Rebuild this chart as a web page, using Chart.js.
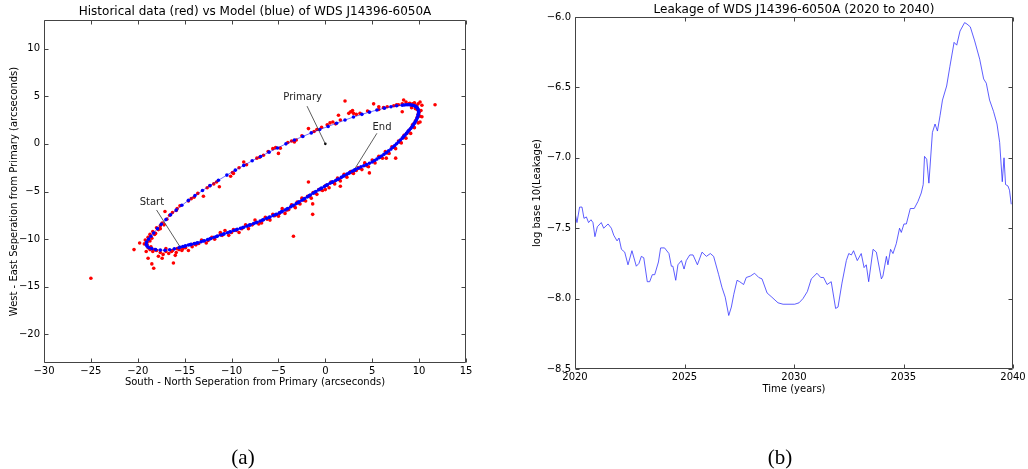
<!DOCTYPE html>
<html><head><meta charset="utf-8">
<script src="https://cdn.jsdelivr.net/npm/chart.js@4.4.1/dist/chart.umd.min.js"></script>
<style>
html,body{margin:0;padding:0;background:#fff;width:1028px;height:469px;overflow:hidden}
#c1{position:absolute;left:0;top:0}
#c2{position:absolute;left:514px;top:0}
</style></head><body>
<canvas id="c1" width="514" height="469"></canvas>
<canvas id="c2" width="514" height="469"></canvas>
<script>
// ---------- Orbit chart (a) ----------
const modelX = [-15.5,-15.2,-14.9,-14.6,-14.3,-13.95,-13.6,-13.25,-12.9,-12.55,-12.2,-11.85,-11.5,-11.15,-10.8,-10.45,-10.1,-9.75,-9.4,-9.05,-8.7,-8.35,-8.0,-7.65,-7.3,-6.95,-6.6,-6.25,-5.9,-5.55,-5.2,-4.9,-4.6,-4.3,-4.0,-3.7,-3.4,-3.1,-2.8,-2.5,-2.2,-1.9,-1.6,-1.3,-1.0,-0.7,-0.4,-0.1,0.2,0.5,0.8,1.1,1.4,1.7,2.0,2.3,2.6,2.9,3.2,3.5,3.8,4.1,4.4,4.7,5.0,5.25,5.5,5.75,6.0,6.25,6.5,6.75,7.0,7.2,7.4,7.6,7.8,8.0,8.2,8.35,8.5,8.65,8.8,8.95,9.1,9.25,9.35,9.45,9.55,9.65,9.75,9.82,9.88,9.92,9.95,9.93,9.9,9.83,9.75,9.65,9.55,9.42,9.3,9.15,9.0,8.8,8.6,8.4,8.2,
  7.6,7.0,6.3,5.5,4.7,3.9,3.0,2.1,1.2,0.3,-0.6,-1.5,-2.4,-3.3,-4.2,-5.1,-6.0,-6.9,-7.8,-8.7,-9.6,-10.5,-11.4,-12.3,-13.1,-13.9,-14.6,-15.3,-15.9,-16.5,-17.0,-17.5,-17.9,-18.3,-18.6,-18.85,-19.05,-19.1,-19.0,-18.8,-18.5,-18.1,-17.6,-17.1,-16.6,-16.1,-15.6,
  -15.0,-14.4,-13.7,-13.0,-12.3,-11.6,-10.9,-10.2,-9.5,-8.8,-8.1,-7.4,-6.7,-6.0,-5.3,-4.7,-4.1,-3.5,-2.9,-2.3,-1.7,-1.1,-0.5,0.1,0.7,1.3,1.9,2.5,3.1];
const modelY = [-10.85,-10.78,-10.7,-10.62,-10.55,-10.47,-10.38,-10.28,-10.17,-10.05,-9.93,-9.8,-9.68,-9.57,-9.45,-9.33,-9.22,-9.1,-8.98,-8.87,-8.75,-8.63,-8.5,-8.37,-8.24,-8.1,-7.96,-7.82,-7.67,-7.53,-7.38,-7.24,-7.1,-6.94,-6.78,-6.61,-6.44,-6.27,-6.09,-5.92,-5.74,-5.56,-5.37,-5.18,-5.0,-4.82,-4.65,-4.47,-4.3,-4.14,-3.99,-3.84,-3.69,-3.52,-3.35,-3.18,-3.02,-2.86,-2.7,-2.56,-2.42,-2.3,-2.18,-2.04,-1.9,-1.75,-1.6,-1.44,-1.28,-1.1,-0.92,-0.74,-0.55,-0.36,-0.18,0.01,0.2,0.4,0.6,0.76,0.92,1.1,1.28,1.45,1.62,1.79,1.95,2.1,2.25,2.42,2.6,2.77,2.95,3.12,3.3,3.45,3.6,3.73,3.85,3.92,3.98,4.02,4.06,4.08,4.1,4.1,4.1,4.08,4.06,
  4.0,3.9,3.75,3.55,3.33,3.1,2.82,2.5,2.17,1.83,1.5,1.15,0.78,0.4,0.0,-0.43,-0.87,-1.32,-1.78,-2.26,-2.76,-3.28,-3.82,-4.38,-4.9,-5.43,-5.93,-6.45,-6.95,-7.45,-7.95,-8.45,-8.9,-9.35,-9.7,-10.0,-10.3,-10.55,-10.75,-10.9,-11.0,-11.1,-11.15,-11.17,-11.12,-11.02,-10.9,
  -10.75,-10.58,-10.4,-10.2,-9.97,-9.72,-9.48,-9.25,-9.02,-8.78,-8.53,-8.28,-8.0,-7.72,-7.42,-7.14,-6.83,-6.5,-6.15,-5.8,-5.43,-5.06,-4.7,-4.35,-4.04,-3.74,-3.4,-3.08,-2.76];
const histX = [-19.2,-19.0,-18.9,-19.3,-18.7,-18.4,-18.0,-17.6,-17.3,-17.0,-16.7,-16.3,-15.9,-15.6,-15.2,-14.9,-14.6,-14.2,-18.9,-18.7,-18.4,-18.2,-18.0,-17.8,-17.6,-17.4,-17.2,-16.9,-20.4,-19.8,-18.9,-18.5,-18.3,-16.2,-17.1,-25.0,-17.8,-17.4,-19.1,-16.0,
  -13.8,-13.2,-12.7,-12.1,-11.8,-11.2,-10.3,-9.8,-9.2,-8.5,-8.2,-7.5,-7.1,-6.4,-5.9,-5.6,-5.0,-4.6,-4.3,-3.9,-3.6,-3.2,-3.0,-2.7,-2.5,-2.1,-1.9,-1.5,-1.3,-0.9,-0.7,-0.3,0.0,0.4,0.6,1.0,1.3,1.6,2.0,2.3,2.7,3.0,3.5,3.9,4.2,4.6,5.0,5.3,5.7,6.1,6.4,6.8,7.1,7.5,7.8,8.1,8.4,8.6,8.9,9.1,9.3,9.5,9.7,9.9,10.1,10.0,9.8,10.3,10.2,9.7,9.5,9.2,9.9,10.1,8.9,8.6,11.7,8.35,7.5,4.7,-1.8,-1.35,-1.35,-3.4,-6.8,-10.7,
  -16.6,-16.3,-15.8,-15.5,-14.6,-14.0,-13.6,-13.0,-12.3,-11.9,-11.6,-11.3,-10.1,-9.8,-9.2,-8.7,-8.4,-7.3,-7.0,-6.6,-5.6,-5.3,-5.0,-4.8,-3.6,-3.3,-3.1,-1.8,-1.2,-0.9,0.5,0.8,1.1,1.6,2.1,2.5,2.9,3.0,3.3,5.15,5.7,6.2,6.6,7.3,7.8,
  -13.5,-12.5,-11.0,-10.0,-9.5,-8.9,-7.8,-6.9,-6.2,-5.4,-4.9,-4.1,-3.3,-2.9,-2.3,-1.7,-1.1,-0.5,0.2,0.9,1.5,2.2,2.8,3.3,3.7,4.4,5.2,5.9,6.6,7.3,7.9,8.3,8.7,9.2,9.45,9.6,9.8,9.9,9.75,9.6,9.3,9.0,8.2,7.6,4.5,3.7,0.2,-0.4,-2.5,-4.0,-6.1,-9.9,-12.6,-14.3,-15.9,-17.6,-18.1,-18.5,-18.7,-19.0,-18.6,-18.2,-17.0,-16.4,-15.8,-15.3,-14.0,
  -11.2,10.3,10.1,8.2,5.7,6.5,1.6,0.0,1.4,2.7];
const histY = [-10.1,-10.6,-10.9,-10.5,-11.1,-11.3,-11.2,-11.4,-11.6,-11.3,-11.5,-11.2,-11.4,-11.1,-11.0,-10.9,-11.2,-10.8,-9.8,-9.5,-9.2,-9.5,-8.8,-9.0,-8.6,-8.3,-8.5,-7.9,-11.1,-10.4,-12.0,-12.6,-13.05,-12.5,-7.1,-14.1,-11.8,-12.0,-11.3,-11.7,
  -10.6,-10.1,-10.4,-9.8,-10.0,-9.5,-9.6,-9.0,-9.3,-8.5,-8.9,-8.0,-8.4,-7.7,-8.0,-7.4,-7.6,-6.8,-7.3,-6.9,-6.4,-6.7,-6.1,-6.3,-5.7,-6.0,-5.5,-5.7,-5.1,-5.3,-4.8,-4.9,-4.4,-4.6,-4.0,-4.2,-3.6,-3.9,-3.2,-3.5,-2.9,-3.1,-2.5,-2.7,-2.0,-2.4,-1.7,-2.0,-1.3,-1.5,-0.8,-1.0,-0.3,-0.5,0.3,0.1,0.9,0.6,1.4,1.1,2.0,1.7,2.5,2.2,2.9,3.3,3.6,2.85,3.5,4.0,4.3,3.8,4.2,4.4,4.2,4.4,4.1,4.6,-1.5,-3.05,-4.0,-6.3,-7.4,-9.7,-8.3,-9.1,
  -7.5,-7.2,-6.8,-6.5,-6.0,-5.6,-5.2,-5.5,-4.4,-4.2,-4.0,-4.5,-3.4,-3.1,-2.5,-1.9,-2.2,-1.5,-1.4,-1.2,-0.5,-0.4,-1.0,-0.45,0.3,0.2,0.4,1.6,1.3,1.5,2.2,2.3,2.1,2.5,4.5,3.2,3.5,3.2,3.1,4.2,3.6,3.8,3.9,4.0,4.1,
  -10.45,-10.15,-9.6,-9.3,-9.1,-8.9,-8.5,-8.15,-7.9,-7.55,-7.3,-6.95,-6.55,-6.2,-5.9,-5.5,-5.15,-4.8,-4.35,-4.05,-3.75,-3.3,-3.0,-2.8,-2.55,-2.3,-1.85,-1.4,-0.95,-0.35,0.2,0.65,1.1,1.75,2.1,2.4,2.8,3.1,3.9,3.7,4.2,4.25,4.2,4.1,3.45,3.2,2.0,1.75,0.85,0.15,-0.8,-3.0,-4.6,-5.75,-7.0,-8.9,-9.4,-9.9,-10.2,-10.3,-10.8,-11.1,-11.0,-11.3,-11.0,-11.2,-10.5,
  -9.3,4.06,2.3,3.37,3.9,-1.5,-4.45,-4.8,3.0,3.37];
const primaryX = [0];
const primaryY = [0];
const orbitXTicks = [-30,-25,-20,-15,-10,-5,0,5,10,15];
const orbitYTicks = [-20,-15,-10,-5,0,5,10];
const annotLabels = ['Primary','End','Start'];
const annotTextX = [-2.42, 6.04, -18.5];
const annotTextY = [4.86, 1.77, -6.11];
const annotFromX = [-1.95, 5.5, -18.0];
const annotFromY = [3.96, 1.11, -6.94];
const annotToX = [0, 3.2, -15.5];
const annotToY = [0, -2.53, -10.8];

// ---------- Leakage chart (b) ----------
const leakYears = [2020.0,2020.09,2020.21,2020.32,2020.41,2020.52,2020.62,2020.73,2020.82,2020.91,2021.02,2021.2,2021.31,2021.51,2021.66,2021.77,2021.92,2022.01,2022.12,2022.27,2022.42,2022.60,2022.80,2022.92,2023.03,2023.14,2023.30,2023.41,2023.53,2023.64,2023.81,2023.91,2024.09,2024.29,2024.40,2024.47,2024.60,2024.70,2024.86,2024.98,2025.08,2025.24,2025.39,2025.59,2025.80,2026.00,2026.18,2026.33,2026.56,2026.71,2026.86,2027.02,2027.14,2027.25,2027.40,2027.52,2027.70,2027.82,2028.01,2028.20,2028.39,2028.54,2028.77,2028.99,2029.27,2029.50,2030.03,2030.23,2030.41,2030.61,2030.79,2031.05,2031.22,2031.35,2031.51,2031.70,2031.90,2032.01,2032.19,2032.39,2032.50,2032.62,2032.72,2032.89,2033.07,2033.20,2033.30,2033.41,2033.61,2033.76,2033.99,2034.06,2034.22,2034.29,2034.41,2034.52,2034.67,2034.82,2034.90,2035.02,2035.13,2035.31,2035.49,2035.66,2035.81,2035.90,2035.96,2036.06,2036.16,2036.32,2036.44,2036.55,2036.67,2036.78,2036.97,2037.12,2037.31,2037.43,2037.58,2037.79,2037.90,2038.05,2038.25,2038.48,2038.66,2038.78,2038.93,2039.11,2039.27,2039.39,2039.51,2039.59,2039.66,2039.77,2039.84,2039.92];
const leakValues = [-7.39,-7.46,-7.35,-7.35,-7.43,-7.42,-7.46,-7.44,-7.46,-7.56,-7.49,-7.46,-7.50,-7.47,-7.50,-7.55,-7.59,-7.57,-7.65,-7.67,-7.76,-7.66,-7.77,-7.75,-7.70,-7.71,-7.88,-7.88,-7.83,-7.83,-7.74,-7.64,-7.64,-7.68,-7.77,-7.77,-7.87,-7.76,-7.73,-7.79,-7.73,-7.69,-7.69,-7.76,-7.67,-7.70,-7.68,-7.70,-7.83,-7.92,-7.99,-8.12,-8.06,-7.97,-7.87,-7.88,-7.90,-7.85,-7.84,-7.82,-7.85,-7.86,-7.96,-7.99,-8.03,-8.04,-8.04,-8.03,-8.00,-7.95,-7.86,-7.82,-7.85,-7.85,-7.90,-7.88,-8.07,-8.06,-7.89,-7.73,-7.68,-7.69,-7.66,-7.73,-7.68,-7.78,-7.76,-7.88,-7.65,-7.67,-7.86,-7.84,-7.70,-7.76,-7.65,-7.68,-7.61,-7.50,-7.53,-7.47,-7.47,-7.36,-7.36,-7.31,-7.25,-7.19,-6.99,-7.01,-7.18,-6.82,-6.76,-6.81,-6.70,-6.59,-6.49,-6.35,-6.18,-6.20,-6.10,-6.04,-6.05,-6.07,-6.17,-6.30,-6.44,-6.47,-6.59,-6.67,-6.76,-6.89,-7.17,-7.00,-7.19,-7.20,-7.23,-7.33];
const leakXTicks = [2020,2025,2030,2035,2040];
const leakYTicks = [-8.5,-8.0,-7.5,-7.0,-6.5,-6.0];

// ---------- helpers ----------
const FONT = 'DejaVu Sans';
const zip = (xs, ys) => xs.map((x, i) => ({x: x, y: ys[i]}));
const fmtInt = v => (v < 0 ? '\u2212' : '') + Math.abs(v);
const fmt1 = v => (v < 0 ? '\u2212' : '') + Math.abs(v).toFixed(1);

const framePlugin = {
  id: 'frame',
  afterDatasetsDraw(chart, args, opts) {
    const {ctx, chartArea: a, scales} = chart;
    ctx.save();
    ctx.strokeStyle = '#444';
    ctx.lineWidth = 1;
    const L = Math.round(a.left) + 0.5, R = Math.round(a.right) - 0.5;
    const T = Math.round(a.top) + 0.5, B = Math.round(a.bottom) - 0.5;
    ctx.beginPath();
    ctx.rect(L, T, R - L, B - T);
    ctx.stroke();
    ctx.beginPath();
    scales.x.ticks.forEach(t => {
      const px = Math.round(scales.x.getPixelForValue(t.value)) + 0.5;
      ctx.moveTo(px, B); ctx.lineTo(px, B - 4);
      ctx.moveTo(px, T); ctx.lineTo(px, T + 4);
    });
    scales.y.ticks.forEach(t => {
      const py = Math.round(scales.y.getPixelForValue(t.value)) + 0.5;
      ctx.moveTo(L, py); ctx.lineTo(L + 4, py);
      ctx.moveTo(R, py); ctx.lineTo(R - 4, py);
    });
    ctx.stroke();
    ctx.fillStyle = '#000';
    ctx.font = '12px "' + FONT + '"';
    ctx.textAlign = 'center';
    ctx.textBaseline = 'middle';
    ctx.fillText(opts.title, (a.left + a.right) / 2, opts.titleY);
    ctx.font = '21px "Liberation Serif"';
    ctx.fillText(opts.caption, opts.captionX, 458);
    ctx.restore();
  }
};

const annotPlugin = {
  id: 'annot',
  afterDatasetsDraw(chart, args, opts) {
    if (!opts.enabled) return;
    const {ctx, scales: {x, y}} = chart;
    ctx.save();
    ctx.strokeStyle = '#333';
    ctx.lineWidth = 0.8;
    ctx.fillStyle = '#222';
    ctx.font = '10px "' + FONT + '"';
    ctx.textAlign = 'center';
    ctx.textBaseline = 'middle';
    annotLabels.forEach((lab, i) => {
      ctx.beginPath();
      ctx.moveTo(x.getPixelForValue(annotFromX[i]), y.getPixelForValue(annotFromY[i]));
      ctx.lineTo(x.getPixelForValue(annotToX[i]), y.getPixelForValue(annotToY[i]));
      ctx.stroke();
      ctx.fillText(lab, x.getPixelForValue(annotTextX[i]), y.getPixelForValue(annotTextY[i]));
    });
    ctx.restore();
  }
};

function axisX(min, max, ticksArr, fmt, title, titlePadBottom) {
  return {
    type: 'linear', position: 'bottom', min: min, max: max,
    grid: {display: false, drawTicks: false}, border: {display: false},
    afterBuildTicks: s => { s.ticks = ticksArr.map(v => ({value: v})); },
    afterFit: s => { s.height = 30; },
    ticks: {autoSkip: false, maxRotation: 0, padding: 2, color: '#000',
            font: {family: FONT, size: 10}, callback: fmt},
    title: {display: true, text: title, color: '#000', font: {family: FONT, size: 10, lineHeight: 1.2},
            padding: {top: 0, bottom: titlePadBottom}}
  };
}
function axisY(min, max, ticksArr, fmt, title, width, titlePadTop) {
  return {
    type: 'linear', position: 'left', min: min, max: max,
    grid: {display: false, drawTicks: false}, border: {display: false},
    afterBuildTicks: s => { s.ticks = ticksArr.map(v => ({value: v})); },
    afterFit: s => { s.width = width; },
    ticks: {autoSkip: false, padding: 4, color: '#000',
            font: {family: FONT, size: 10}, callback: fmt},
    title: {display: true, text: title, color: '#000', font: {family: FONT, size: 10, lineHeight: 1.2},
            padding: {top: titlePadTop, bottom: 0}}
  };
}

Chart.defaults.font.family = FONT;

new Chart(document.getElementById('c1'), {
  type: 'scatter',
  data: {
    datasets: [
      {label: 'Historical', order: 2, data: zip(histX, histY), backgroundColor: '#ff0000', borderWidth: 0, pointRadius: 1.8, showLine: false},
      {label: 'Model', order: 1, data: zip(modelX, modelY), backgroundColor: '#0000ff', borderColor: 'rgba(0,0,255,0.55)', borderWidth: 1,
       pointRadius: 1.8, pointBorderWidth: 0, showLine: true, tension: 0},
      {label: 'Primary', order: 0, data: zip(primaryX, primaryY), backgroundColor: '#000', borderWidth: 0, pointRadius: 1.3, showLine: false}
    ]
  },
  options: {
    responsive: false, animation: false, devicePixelRatio: 1,
    layout: {padding: {left: 4, right: 48, top: 20, bottom: 76}},
    plugins: {legend: {display: false}, tooltip: {enabled: false},
      frame: {title: 'Historical data (red) vs Model (blue) of WDS J14396-6050A', titleY: 12, caption: '(a)', captionX: 243},
      annot: {enabled: true}},
    scales: {
      x: axisX(-30, 15, orbitXTicks, fmtInt, 'South - North Seperation from Primary (arcseconds)', 5),
      y: axisY(-23, 13, orbitYTicks, fmtInt, 'West - East Seperation from Primary (arcseconds)', 40, 4)
    }
  },
  plugins: [framePlugin, annotPlugin]
});

new Chart(document.getElementById('c2'), {
  type: 'scatter',
  data: {
    datasets: [
      {label: 'Leakage', data: zip(leakYears, leakValues), borderColor: 'rgba(40,40,255,0.75)', borderWidth: 1,
       pointRadius: 0, showLine: true, tension: 0}
    ]
  },
  options: {
    responsive: false, animation: false, devicePixelRatio: 1,
    layout: {padding: {left: 11, right: 15, top: 17, bottom: 70}},
    plugins: {legend: {display: false}, tooltip: {enabled: false},
      frame: {title: 'Leakage of WDS J14396-6050A (2020 to 2040)', titleY: 10, caption: '(b)', captionX: 266},
      annot: {enabled: false}},
    scales: {
      x: axisX(2020, 2040, leakXTicks, fmtInt, 'Time (years)', 4),
      y: axisY(-8.5, -6.0, leakYTicks, fmt1, 'log base 10(Leakage)', 50, 6)
    }
  },
  plugins: [framePlugin, annotPlugin]
});
</script>
</body></html>
